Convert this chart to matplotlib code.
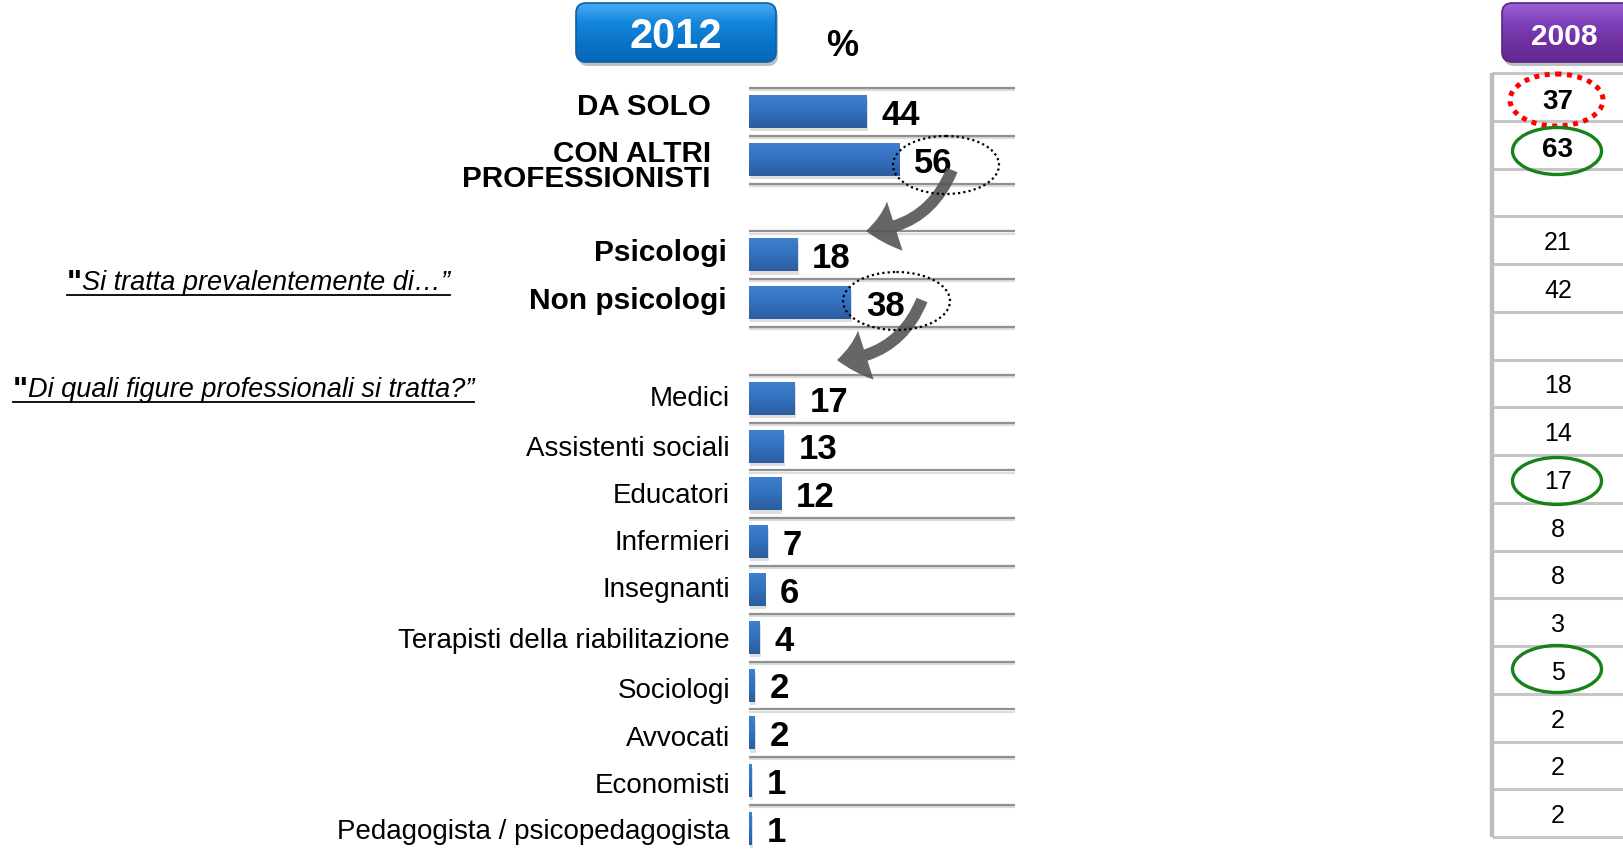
import matplotlib
matplotlib.use("Agg")
import matplotlib.pyplot as plt
import numpy as np
from matplotlib.patches import FancyBboxPatch, Ellipse, FancyArrowPatch
from matplotlib.colors import LinearSegmentedColormap
from matplotlib.lines import Line2D

# ---------------- data ----------------
group_labels = ["DA SOLO", "CON ALTRI\nPROFESSIONISTI"]
group_2012 = [44, 56]
group_2008 = [37, 63]

type_labels = ["Psicologi", "Non psicologi"]
type_2012 = [18, 38]
type_2008 = [21, 42]

prof_labels = ["Medici", "Assistenti sociali", "Educatori", "Infermieri", "Insegnanti",
               "Terapisti della riabilitazione", "Sociologi", "Avvocati", "Economisti",
               "Pedagogista / psicopedagogista"]
prof_2012 = [17, 13, 12, 7, 6, 4, 2, 2, 1, 1]
prof_2008 = [18, 14, 17, 8, 8, 3, 5, 2, 2, 2]

header_2012 = "2012"
header_2008 = "2008"
unit_label = "%"
question_1 = "Si tratta prevalentemente di…\u201d"
question_2 = "Di quali figure professionali si tratta?\u201d"

# ---------------- layout ----------------
W, H = 1624, 850
FONT = ["Liberation Sans", "DejaVu Sans"]
fig = plt.figure(figsize=(W / 100, H / 100), dpi=100)

NROWS = 16
group_rows = [0, 1]
type_rows = [3, 4]
prof_rows = list(range(6, 16))
# baseline drop (pixels below row centre) of the last line of each label
group_label_drop = [3, 27]
prof_label_drop = [7, 10, 9, 8, 7, 10, 13, 13, 12, 10]

ROW_TOP, ROW_H = 88, 47.8
PX_PER_UNIT = 2.68
ax = fig.add_axes([749 / W, 1 - (ROW_TOP + NROWS * ROW_H) / H, 266 / W, NROWS * ROW_H / H])
xmax = 266 / PX_PER_UNIT
ax.axis("off")

# grid lines
for i in range(NROWS + 1):
    ax.plot([0, xmax], [i + 0.045, i + 0.045], color="#dddddd", lw=1.6, clip_on=False,
            solid_capstyle="butt", zorder=1)
    ax.plot([0, xmax], [i, i], color="#909090", lw=1.6, clip_on=False,
            solid_capstyle="butt", zorder=2)

rows = group_rows + type_rows + prof_rows
vals = group_2012 + type_2012 + prof_2012
bar_h = 0.67
bar_cmap = LinearSegmentedColormap.from_list("bar", ["#3f80d0", "#3470bd", "#2b5c9e"])
grad = np.linspace(0, 1, 64).reshape(-1, 1)
for r, v in zip(rows, vals):
    yc = r + 0.5
    ax.barh(yc + 0.07, v, left=0.5, height=bar_h, color="#000000", alpha=0.13, zorder=2.5,
            linewidth=0)
    ax.barh(yc, v, height=bar_h, color="#356cb8", zorder=3, linewidth=0)
    ax.imshow(grad, extent=(0, v, yc + bar_h / 2, yc - bar_h / 2), cmap=bar_cmap,
              aspect="auto", origin="upper", zorder=3.2, interpolation="bilinear")
    ax.annotate(str(v), xy=(v, yc), xytext=(15, -13), textcoords="offset pixels",
                ha="left", va="baseline", fontsize=25, fontweight="bold", family=FONT,
                color="black", zorder=6)
ax.set_xlim(0, xmax)
ax.set_ylim(NROWS, 0)

# category labels
for lab, r, d in zip(group_labels, group_rows, group_label_drop):
    ax.annotate(lab, xy=(0, r + 0.5), xytext=(-38, -d), textcoords="offset pixels",
                ha="right", va="baseline", multialignment="right", linespacing=0.86,
                fontsize=21.3, fontweight="bold", family=FONT)
for lab, r in zip(type_labels, type_rows):
    ax.annotate(lab, xy=(0, r + 0.5), xytext=(-22, -6), textcoords="offset pixels",
                ha="right", va="baseline", fontsize=21.5, fontweight="bold", family=FONT)
for lab, r, d in zip(prof_labels, prof_rows, prof_label_drop):
    ax.annotate(lab, xy=(0, r + 0.5), xytext=(-19, -d), textcoords="offset pixels",
                ha="right", va="baseline", fontsize=20, family=FONT)

# ---------------- 2008 table ----------------
T_TOP, T_ROW = 73, 47.75
tax = fig.add_axes([1492 / W, 1 - (T_TOP + NROWS * T_ROW) / H, 132 / W, NROWS * T_ROW / H])
tax.set_xlim(0, 1)
tax.set_ylim(NROWS, 0)
tax.axis("off")
for i in range(NROWS + 1):
    tax.plot([0, 1.05], [i, i], color="#c6c6c6", lw=2.2, clip_on=False, solid_capstyle="butt")
tax.plot([0, 0], [0, NROWS], color="#bdbdbd", lw=3.2, clip_on=False, solid_capstyle="butt")
for r, v in zip(group_rows, group_2008):
    tax.annotate(str(v), xy=(0.5, r + 0.5), xytext=(0, -12), textcoords="offset pixels",
                 ha="center", va="baseline", fontsize=20, fontweight="bold", family=FONT)
for r, v in zip(type_rows + prof_rows, type_2008 + prof_2008):
    tax.annotate(str(v), xy=(0.5, r + 0.5), xytext=(0, -10), textcoords="offset pixels",
                 ha="center", va="baseline", fontsize=18, family=FONT)

# ---------------- overlay (pixel coordinates) ----------------
ov = fig.add_axes([0, 0, 1, 1])
ov.set_xlim(0, W)
ov.set_ylim(H, 0)
ov.axis("off")
ov.set_zorder(10)


def gel_box(x0, y0, x1, y1, colors, edge):
    sh = FancyBboxPatch((x0 + 2, y0 + 4), x1 - x0, y1 - y0,
                        boxstyle="round,pad=0,rounding_size=10", fc="#000000", ec="none",
                        alpha=0.25, zorder=1)
    ov.add_patch(sh)
    p = FancyBboxPatch((x0, y0), x1 - x0, y1 - y0, boxstyle="round,pad=0,rounding_size=10",
                       fc="none", ec=edge, lw=1.2, zorder=3)
    ov.add_patch(p)
    cm = LinearSegmentedColormap.from_list("g", colors)
    im = ov.imshow(np.linspace(0, 1, 64).reshape(-1, 1), extent=(x0, x1, y1, y0), cmap=cm,
                   aspect="auto", origin="upper", zorder=2, interpolation="bilinear")
    im.set_clip_path(p)


gel_box(576, 3, 776, 62, ["#4aaaf2", "#1386dc", "#0a74c8", "#0868b8"], "#0b5fa8")
gel_box(1502, 3, 1640, 62, ["#9a63d4", "#7e40bb", "#7030a0", "#642a92"], "#5a2586")
ov.text(676, 48, header_2012, ha="center", va="baseline", color="white", fontsize=30,
        fontweight="bold", family=FONT, zorder=5)
ov.text(1564, 45, header_2008, ha="center", va="baseline", color="white", fontsize=21.5,
        fontweight="bold", family=FONT, zorder=5)
ov.text(842, 56, unit_label, ha="center", va="baseline", color="black", fontsize=26,
        fontweight="bold", family=FONT, zorder=5)

# dotted ellipses around 2012 values
ov.add_patch(Ellipse((946, 165), 106, 58, fill=False, ec="black", lw=1.6,
                     linestyle=(0, (1, 1.4)), zorder=4))
ov.add_patch(Ellipse((896.5, 301), 107, 58, fill=False, ec="black", lw=1.6,
                     linestyle=(0, (1, 1.4)), zorder=4))
# 2008 highlights
ov.add_patch(Ellipse((1556.5, 100), 93, 52, fill=False, ec="#ff0000", lw=3.6,
                     linestyle=(0, (1, 1.1)), zorder=4))
for cy in (151, 481, 669):
    ov.add_patch(Ellipse((1557, cy), 89, 47, fill=False, ec="#178217", lw=2.4, zorder=4))

# curved arrows
for (sx, sy), (ex, ey) in [((952, 170), (866, 231)), ((922, 300), (837, 360))]:
    arr = FancyArrowPatch((sx, sy), (ex, ey), connectionstyle="arc3,rad=-0.32",
                          arrowstyle="simple,head_width=3.7,head_length=2.1,tail_width=0.85",
                          mutation_scale=10, color="#555555", alpha=0.9, lw=0,
                          shrinkA=0, shrinkB=0, zorder=3)
    ov.add_patch(arr)

# question texts (underlined)
q_items = [(67, 290, question_1), (13, 397, question_2)]
texts = []
for x, yb, q in q_items:
    ov.text(x, yb + 2, "\"", ha="left", va="baseline", fontsize=23, fontweight="bold",
            family=FONT, zorder=5)
    t1 = ov.text(x + 15, yb, q, ha="left", va="baseline", fontsize=19.5, style="italic",
                 family=FONT, zorder=5)
    texts.append((x, yb, t1))

fig.canvas.draw()
for x, yb, t1 in texts:
    bb = t1.get_window_extent()
    ov.add_line(Line2D([x, bb.x1], [yb + 4.5, yb + 4.5], color="black", lw=1.3, zorder=5))

fig.savefig("out.png", dpi=100)
